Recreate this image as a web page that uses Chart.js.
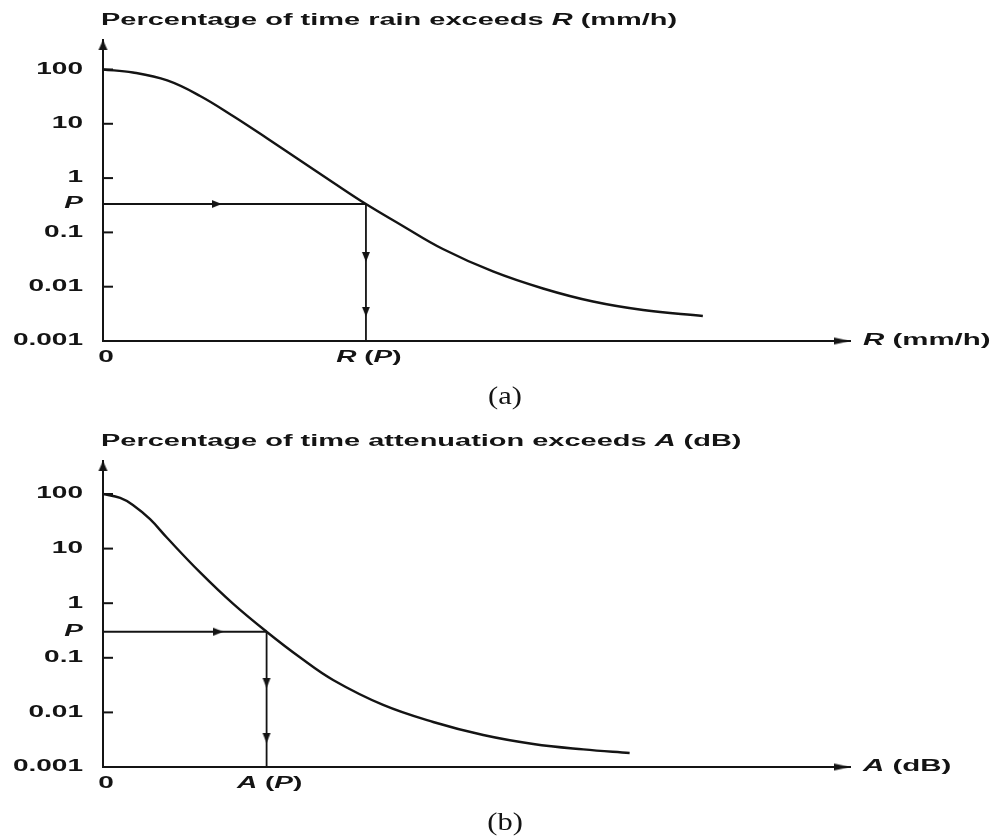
<!DOCTYPE html>
<html>
<head>
<meta charset="utf-8">
<script src="https://cdn.jsdelivr.net/npm/chart.js@4.4.0/dist/chart.umd.min.js"></script>
<style>
html,body{margin:0;padding:0;background:#fff;}
#wrap{position:relative;width:999px;height:837px;overflow:hidden;background:#fff;}
canvas{position:absolute;left:0;}
</style>
</head>
<body>
<div id="wrap">
<canvas id="chartA" width="999" height="420" style="top:0px"></canvas>
<canvas id="chartB" width="999" height="416" style="top:421px"></canvas>
</div>
<script>
// ---------------- data ----------------
// (a) rain rate (arbitrary linear units, axis runs 0..100) and % of time exceeded
const rainRate       = [0, 4.0, 8.6, 13.0, 17.4, 22.0, 26.4, 30.8, 35.2, 39.8, 45.5, 52.2, 58.9, 65.6, 72.3, 80.3];
const rainExceedPct  = [100, 88.1, 62.7, 32.5, 13.9, 5.36, 2.11, 0.83, 0.333, 0.140, 0.0494, 0.0191, 0.00927, 0.00533, 0.00372, 0.00288];
// (b) attenuation (arbitrary linear units) and % of time exceeded
const attenDb        = [0, 2.3, 4.0, 6.3, 8.6, 13.0, 17.4, 21.9, 26.4, 30.8, 37.5, 44.2, 50.9, 57.6, 64.3, 70.5];
const attenExceedPct = [100, 84.5, 62.9, 34.5, 15.6, 3.66, 0.98, 0.30, 0.101, 0.0392, 0.0137, 0.00667, 0.00385, 0.00264, 0.0021, 0.0018];

// tick labels
const yTickValues = [100, 10, 1, 0.1, 0.01, 0.001];
const yTickLabels = ['100', '10', '1', '0.1', '0.01', '0.001'];
const pTickLabel  = 'P';
const rainXTickLabels  = ['0', '*R* (*P*)'];
const attenXTickLabels = ['0', '*A* (*P*)'];

// the reading P -> R(P), A(P)
const rainP = 0.333, rainAtP = 35.2;
const attenP = 0.30, attenAtP = 21.9;
// arrowheads on the reading lines
const rainArrowX = 15.9, rainArrowY = [0.0285, 0.0028];
const attenArrowX = 16.1, attenArrowY = [0.028, 0.00275];

// axis ranges
const X_MAX = 100, Y_MIN = 0.001;
const rainYMax = 349, attenYMax = 402;

// texts
const rainTitle  = 'Percentage of time rain exceeds *R* (mm/h)';
const attenTitle = 'Percentage of time attenuation exceeds *A* (dB)';
const rainAxisName  = '*R* (mm/h)';
const attenAxisName = '*A* (dB)';

// ---------------- drawing helpers ----------------
const INK = '#141414';
const SANS = '"Liberation Sans", Arial, sans-serif';
const SERIF = '"Liberation Serif", "Times New Roman", serif';

function drawRich(ctx, str, x, y, align, font, sx) {
  const parts = String(str).split('*');
  const fonts = parts.map((p, i) => (i % 2 ? 'italic ' : '') + font);
  const ws = [];
  let w = 0;
  parts.forEach((p, i) => { ctx.font = fonts[i]; const m = ctx.measureText(p).width; ws.push(m); w += m; });
  let cx = align === 'right' ? -w : (align === 'center' ? -w / 2 : 0);
  ctx.save();
  ctx.translate(x, y);
  ctx.scale(sx, 1);
  ctx.textBaseline = 'middle';
  ctx.textAlign = 'left';
  ctx.fillStyle = INK;
  parts.forEach((p, i) => { if (p) { ctx.font = fonts[i]; ctx.fillText(p, cx, 0); } cx += ws[i]; });
  ctx.restore();
}

function arrowImg(len, wid) {
  const c = document.createElement('canvas');
  c.width = Math.ceil(wid) + 2;
  c.height = len * 2;
  const g = c.getContext('2d');
  g.fillStyle = INK;
  g.beginPath();
  g.moveTo(c.width / 2, len);
  g.lineTo(c.width / 2 + wid / 2, 2 * len);
  g.lineTo(c.width / 2 - wid / 2, 2 * len);
  g.closePath();
  g.fill();
  return c;
}
const arrowMid = arrowImg(10, 8);
const arrowAxisX = arrowImg(16, 7);
const arrowAxisY = arrowImg(10, 9);

const LABEL_FONT = 'bold 16px ' + SANS;
const figText = {
  id: 'figText',
  afterDraw(chart, args, o) {
    const ctx = chart.ctx, a = chart.chartArea, xs = chart.scales.x, ys = chart.scales.y;
    ctx.save();
    ctx.strokeStyle = INK;
    ctx.lineWidth = 2;
    ys.ticks.forEach(t => {
      const py = ys.getPixelForValue(t.value);
      if (String(t.label).indexOf('*') < 0 && t.value !== ys.min) {
        ctx.beginPath(); ctx.moveTo(a.left, py); ctx.lineTo(a.left + 10, py); ctx.stroke();
      }
      drawRich(ctx, t.label, a.left - 20, py, 'right', LABEL_FONT, 1.75);
    });
    xs.ticks.forEach(t => {
      const px = xs.getPixelForValue(t.value);
      drawRich(ctx, t.label, px + 3, a.bottom + 17, 'center', LABEL_FONT, 1.75);
    });
    drawRich(ctx, o.title, a.left - 2, a.top - 19, 'left', LABEL_FONT, 1.81);
    drawRich(ctx, o.axisName, a.right + 13, a.bottom, 'left', LABEL_FONT, 1.84);
    drawRich(ctx, o.caption, 505, a.bottom + 56, 'center', '25px ' + SERIF, 1.22);
    ctx.restore();
  }
};

function makeFigure(id, s) {
  const canvas = document.getElementById(id);
  const H = canvas.height;
  const yTicks = yTickValues.concat([s.p]).sort((u, v) => v - u);
  const yLabels = yTicks.map(v => v === s.p ? '*' + pTickLabel + '*' : yTickLabels[yTickValues.indexOf(v)]);
  const xTicks = [0, s.xp];
  const guide = { borderColor: INK, borderWidth: 1.8, pointRadius: 0, fill: false };
  const arrow = { showLine: false, pointRadius: 5, clip: false, borderWidth: 0 };
  return new Chart(canvas, {
    type: 'line',
    data: {
      datasets: [
        { data: s.xs.map((x, i) => ({ x: x, y: s.ys[i] })), borderColor: INK, borderWidth: 2.4,
          pointRadius: 0, tension: 0.4, fill: false },
        Object.assign({ data: [{ x: 0, y: s.p }, { x: s.xp, y: s.p }] }, guide),
        Object.assign({ data: [{ x: s.xp, y: s.p }, { x: s.xp, y: Y_MIN }] }, guide),
        Object.assign({ data: [{ x: s.arrowX, y: s.p }], pointStyle: arrowMid, pointRotation: 90 }, arrow),
        Object.assign({ data: s.arrowY.map(y => ({ x: s.xp, y: y })), pointStyle: arrowMid, pointRotation: 180 }, arrow),
        Object.assign({ data: [{ x: X_MAX, y: Y_MIN }], pointStyle: arrowAxisX, pointRotation: 90 }, arrow),
        Object.assign({ data: [{ x: 0, y: s.yMax }], pointStyle: arrowAxisY, pointRotation: 0 }, arrow)
      ]
    },
    options: {
      responsive: false,
      animation: false,
      events: [],
      layout: { padding: { top: 40, left: 0, right: 999 - 850, bottom: 0 } },
      plugins: {
        legend: { display: false },
        tooltip: { enabled: false },
        title: { display: false },
        figText: { title: s.title, axisName: s.axisName, caption: s.caption }
      },
      scales: {
        x: {
          type: 'linear', min: 0, max: X_MAX,
          grid: { display: false, drawTicks: false },
          border: { display: true, color: INK, width: 2 },
          ticks: { display: false, callback: (v, i) => s.xLabels[i] },
          afterBuildTicks: sc => { sc.ticks = xTicks.map(v => ({ value: v })); },
          afterFit: sc => { sc.height = H - s.bottom; }
        },
        y: {
          type: 'logarithmic', min: Y_MIN, max: s.yMax,
          grid: { display: false, drawTicks: false },
          border: { display: true, color: INK, width: 2 },
          ticks: { display: false, callback: (v, i) => yLabels[i] },
          afterBuildTicks: sc => { sc.ticks = yTicks.map(v => ({ value: v })); },
          afterFit: sc => { sc.width = 103; }
        }
      }
    },
    plugins: [figText]
  });
}

makeFigure('chartA', {
  xs: rainRate, ys: rainExceedPct, p: rainP, xp: rainAtP,
  arrowX: rainArrowX, arrowY: rainArrowY, yMax: rainYMax, bottom: 341,
  xLabels: rainXTickLabels, title: rainTitle, axisName: rainAxisName, caption: '(a)'
});
makeFigure('chartB', {
  xs: attenDb, ys: attenExceedPct, p: attenP, xp: attenAtP,
  arrowX: attenArrowX, arrowY: attenArrowY, yMax: attenYMax, bottom: 346,
  xLabels: attenXTickLabels, title: attenTitle, axisName: attenAxisName, caption: '(b)'
});
</script>
</body>
</html>
